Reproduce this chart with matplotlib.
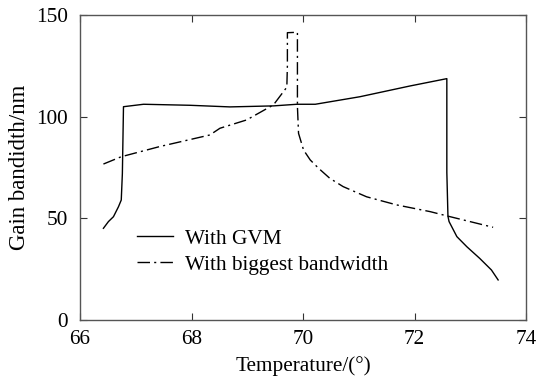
import matplotlib
matplotlib.use('Agg')
import matplotlib.pyplot as plt

plt.rcParams.update({
    'font.family': ['Liberation Serif', 'DejaVu Serif'],
    'font.size': 15.3,
})

# Gain bandwidth with GVM (solid)
gvm_temp = [66.42, 66.51, 66.60, 66.69, 66.74, 66.76, 66.78, 67.14, 67.97, 68.69,
            69.47, 69.89, 70.22, 71.02, 71.92, 72.58, 72.58, 72.60, 72.62, 72.76,
            72.94, 73.17, 73.38, 73.50]
gvm_bw = [45.1, 48.4, 50.8, 55.7, 59.0, 72.0, 104.9, 106.1, 105.6, 104.8,
          105.3, 106.1, 106.1, 109.8, 115.1, 118.7, 72.6, 51.0, 48.4, 41.0,
          36.0, 30.3, 24.6, 19.7]

# Biggest bandwidth (dash-dot)
big_temp = [66.42, 66.74, 67.43, 68.33, 68.51, 68.99, 69.47, 69.71, 69.72, 69.72,
            69.90, 69.90, 69.92, 70.01, 70.13, 70.28, 70.48, 70.72, 71.14, 71.68,
            72.28, 72.64, 73.41]
big_bw = [76.7, 80.3, 85.3, 91.0, 94.3, 98.4, 105.8, 114.5, 125.0, 141.3,
          141.5, 105.0, 91.8, 83.6, 78.7, 74.6, 69.7, 65.6, 60.6, 56.6,
          53.3, 50.8, 45.6]

fig = plt.figure(figsize=(5.4, 3.77), dpi=100)
ax = fig.add_axes([80 / 540, 1 - 320 / 377, 446 / 540, 305 / 377])

ax.plot(gvm_temp, gvm_bw, color='black', linewidth=1.0, label='With GVM')
ax.plot(big_temp, big_bw, color='black', linewidth=1.0,
        linestyle=(0, (9, 3, 1.5, 3)), label='With biggest bandwidth')

ax.set_xlim(66, 74)
ax.set_ylim(0, 150)
ax.set_xticks([66, 68, 70, 72, 74])
ax.set_yticks([0, 50, 100, 150])
ax.tick_params(direction='in', length=5, width=0.8, top=True, right=True,
               colors='#333333', labelcolor='black')
ax.tick_params(axis='x', pad=7)
ax.tick_params(axis='y', pad=9)
for s in ax.spines.values():
    s.set_color('#555555')
    s.set_linewidth(1.0)

ax.set_xlabel('Temperature/(°)', labelpad=5)
ax.set_ylabel('Gain bandidth/nm', fontsize=16.5, labelpad=4)

ax.legend(loc='lower left', bbox_to_anchor=(0.109, 0.12), frameon=False,
          handlelength=1.7, handletextpad=0.56, labelspacing=0.29,
          borderaxespad=0)

fig.savefig('out.png', dpi=100)
